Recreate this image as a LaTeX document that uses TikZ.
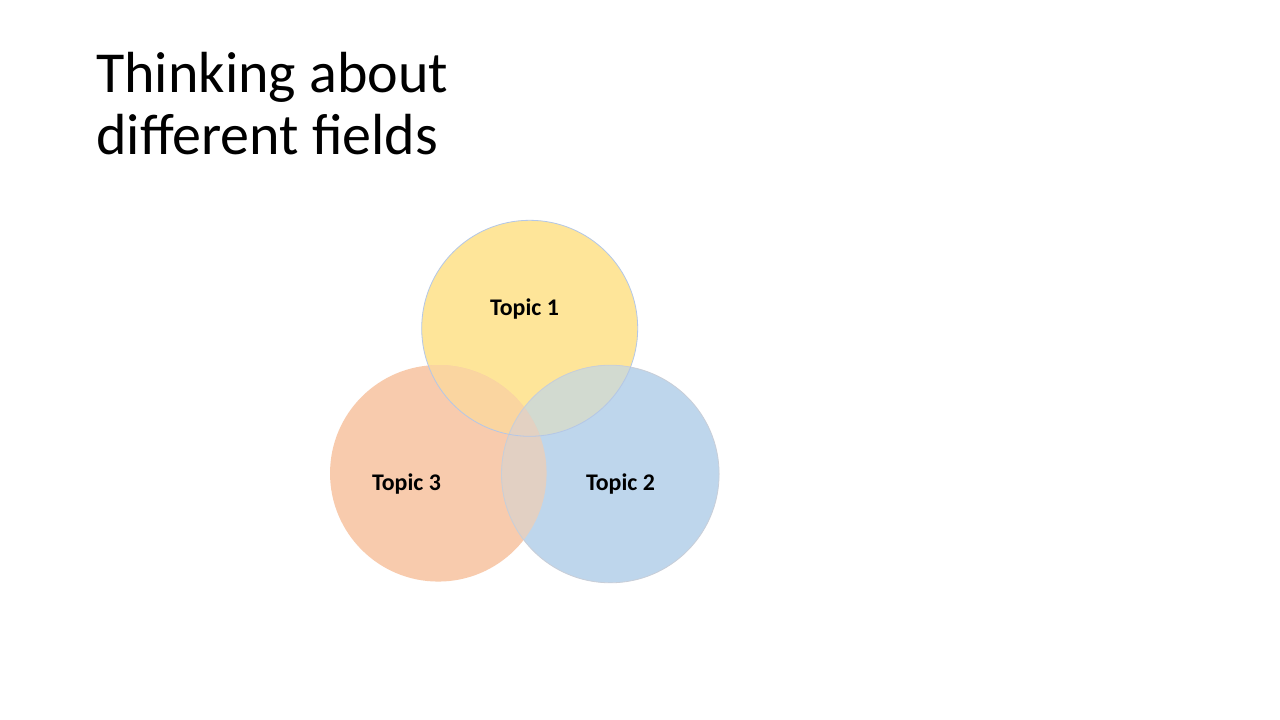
\documentclass[tikz,border=0pt]{standalone}
\usepackage{fontspec}
\setmainfont{Carlito}
\definecolor{cyel}{HTML}{FEE599}
\definecolor{cora}{HTML}{F8CBAD}
\definecolor{cblu}{HTML}{BED6EC}
\definecolor{cyo}{HTML}{FAD5A0}
\definecolor{cyb}{HTML}{D2DAD0}
\definecolor{cob}{HTML}{E2D0C3}
\definecolor{cyob}{HTML}{E3D1C2}
\definecolor{edgey}{HTML}{B4C7E7}
\definecolor{edgeb}{HTML}{C8CED8}
\tikzset{
  topic/.style={font=\fontsize{17.9}{20}\selectfont\bfseries, anchor=base, inner sep=0pt},
  titletext/.style={font=\fontsize{43.5}{45}\selectfont, anchor=base west, inner sep=0pt, align=left},
}
\begin{document}
\begin{tikzpicture}[x=0.75pt,y=-0.75pt]
\useasboundingbox (0,0) rectangle (1280,720);
\fill[white] (0,0) rectangle (1280,720);
\coordinate (c1) at (529.7,328.3);
\coordinate (c2) at (610.3,474);
\coordinate (c3) at (438.3,473.3);
\def\ra{81pt}
\def\rb{81.6pt}
\def\rc{81.2pt}
% base fills
\fill[cyel] (c1) circle[radius=\ra];
\fill[cora] (c3) circle[radius=\rc];
\fill[cblu] (c2) circle[radius=\rb];
% pairwise overlaps
\begin{scope}
  \clip (c1) circle[radius=\ra];
  \fill[cyo] (c3) circle[radius=\rc];
  \fill[cyb] (c2) circle[radius=\rb];
\end{scope}
\begin{scope}
  \clip (c3) circle[radius=\rc];
  \fill[cob] (c2) circle[radius=\rb];
\end{scope}
\begin{scope}
  \clip (c1) circle[radius=\ra];
  \clip (c3) circle[radius=\rc];
  \fill[cyob] (c2) circle[radius=\rb];
\end{scope}
% edges
\draw[edgeb, line width=0.6pt] (c2) circle[radius=\rb];
\draw[edgey, line width=0.6pt] (c1) circle[radius=\ra];
% labels
\node[topic] (t1) at (524.5,315) {Topic 1};
\node[topic] (t2) at (620.5,490) {Topic 2};
\node[topic] (t3) at (406.5,490) {Topic 3};
% title
\node[titletext] (title) at (96,93) {Thinking about};
\node[titletext] (title2) at (96,155) {different fields};
\end{tikzpicture}
\end{document}
